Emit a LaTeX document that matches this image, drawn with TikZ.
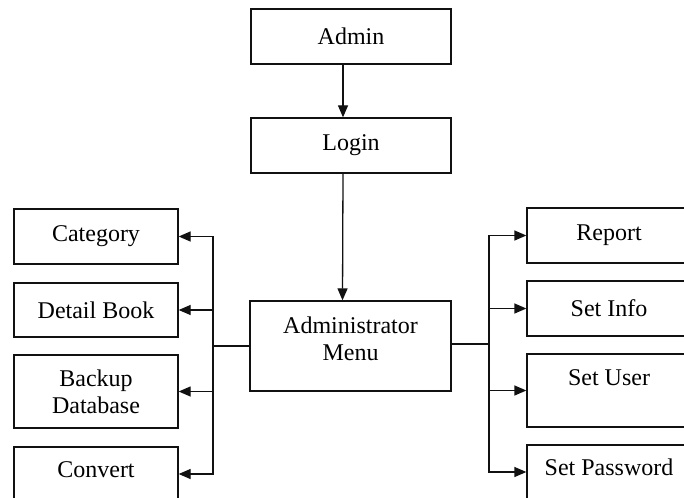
\documentclass[tikz,border=0pt]{standalone}
\usepackage{fontspec}
\setmainfont{Liberation Serif}
\usetikzlibrary{arrows.meta}
\definecolor{amInk}{HTML}{111111}
\tikzset{
  ambox/.style={rectangle,draw=amInk,line width=1.3pt,fill=white,
                minimum width=164,minimum height=55,inner sep=2pt,
                align=center,font=\fontsize{24}{27}\selectfont},
  amarrow/.style={-{Triangle[length=12pt,width=10pt]},line width=1.3pt,amInk},
  amline/.style={line width=1.3pt,amInk}
}

\begin{document}
\begin{tikzpicture}[x=1pt,y=-1pt]
    \clip (0,0) rectangle (684,497);
    \fill[white] (0,0) rectangle (684,497);

    \node[ambox,minimum width=200] (admin) at (351,36.5) {Admin};
    \node[ambox,minimum width=200] (login) at (351,145.5) {Login};
    \node[ambox,minimum width=201,minimum height=90,text depth=15pt] (menu)
      at (350.5,346) {Administrator\\Menu};
    \draw[amarrow] ([xshift=-8]admin.south) -- ([xshift=-8]login.north);
    \draw[amarrow] ([xshift=-8]login.south) -- ([xshift=-8]menu.north);

    \node[ambox] (cat) at (96,236.5) {Category};
    \node[ambox,minimum height=54] (book) at (96,310) {Detail Book};
    \node[ambox,minimum height=73] (backup) at (96,391.5) {Backup\\Database};
    \node[ambox,minimum height=54,text depth=8pt] (conv) at (96,474) {Convert};
    \coordinate (lbus) at (213,346);
    \draw[amline] (menu.west) -- (lbus);
    \draw[amarrow] (lbus) |- (cat.east);
    \draw[amarrow] (lbus) |- (book.east);
    \draw[amarrow] (lbus) |- (backup.east);
    \draw[amarrow] (lbus) |- (conv.east);

    \node[ambox] (report) at (609,235.5) {Report};
    \node[ambox] (info) at (609,308.5) {Set Info};
    \node[ambox,minimum height=73,text depth=25pt] (user)
      at (609,390.5) {Set User};
    \node[ambox,minimum height=54,text depth=10pt] (pass)
      at (609,472) {Set Password};
    \coordinate (rbus) at (489,344);
    \draw[amline] (menu.east |- rbus) -- (rbus);
    \draw[amarrow] (rbus) |- (report.west);
    \draw[amarrow] (rbus) |- (info.west);
    \draw[amarrow] (rbus) |- (user.west);
    \draw[amarrow] (rbus) |- (pass.west);
\end{tikzpicture}
\end{document}
